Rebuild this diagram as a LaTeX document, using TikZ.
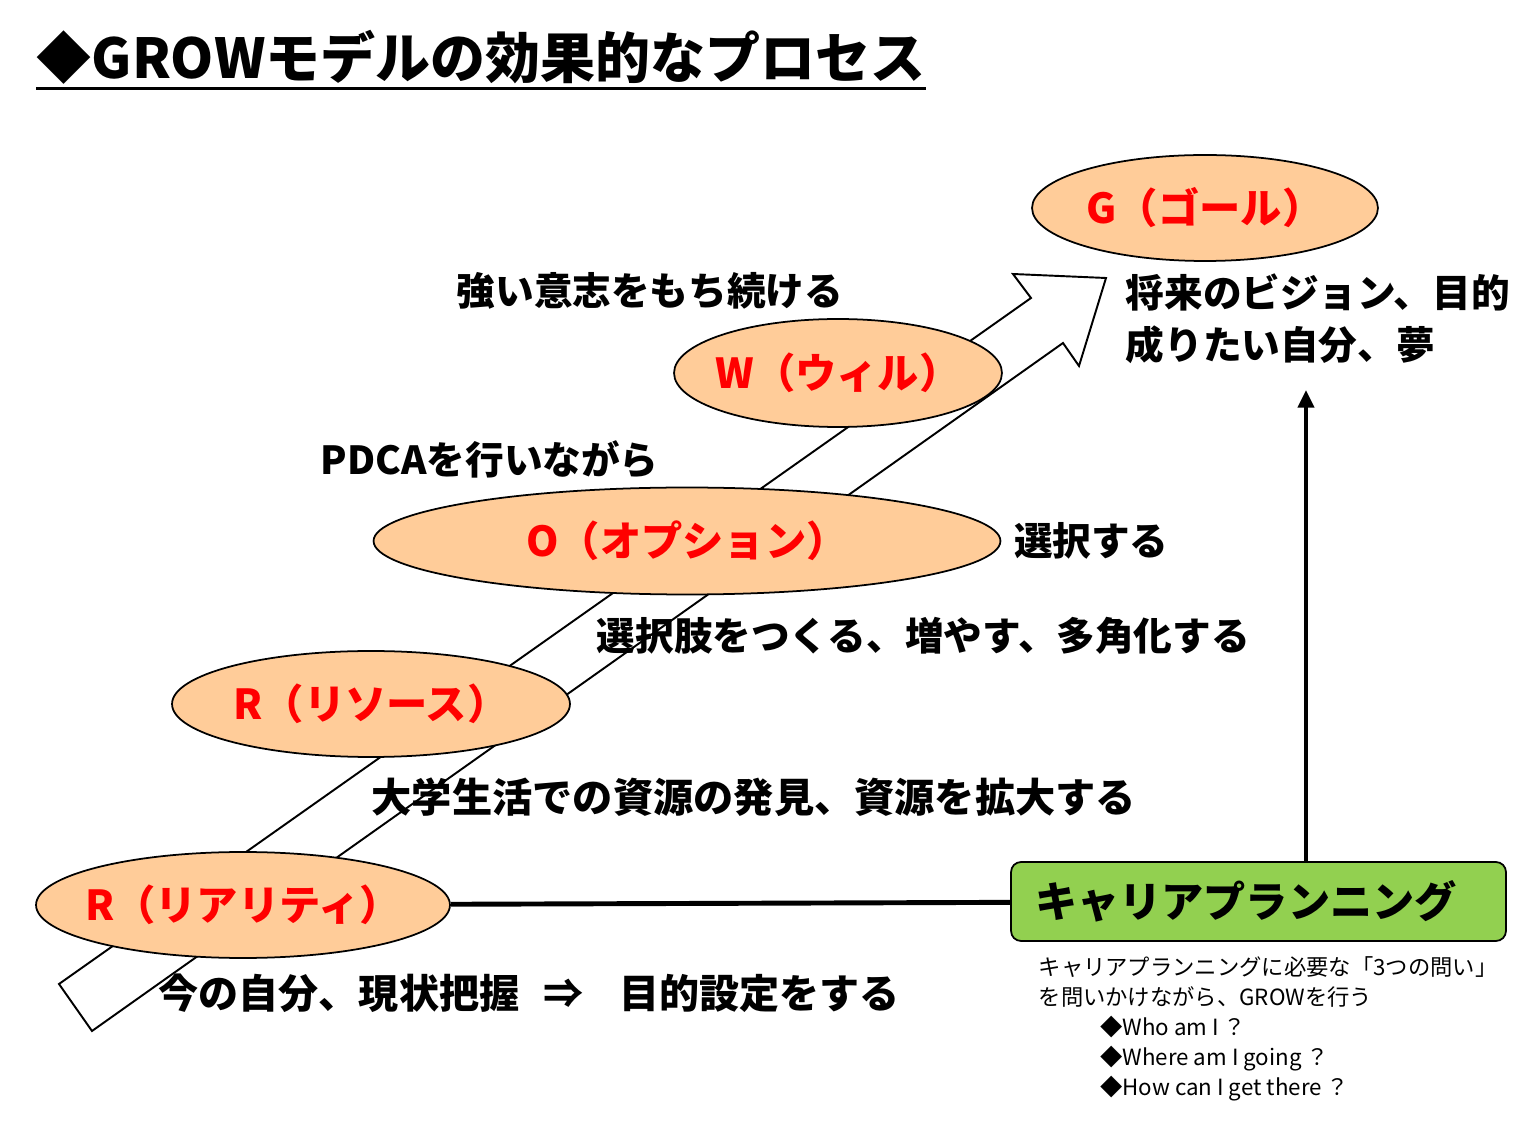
\documentclass[tikz,border=0pt]{standalone}
\usepackage{fontspec}
\setmainfont{Noto Sans CJK JP}
\usetikzlibrary{arrows.meta,positioning,shapes.geometric}
\definecolor{peach}{HTML}{FFCC99}
\definecolor{plangreen}{HTML}{92D050}
\tikzset{
    %Define style for the ellipses
    oval/.style={
           ellipse,
           draw=black, line width=1pt,
           fill=peach,
           inner xsep=-0.3cm,
           inner ysep=0pt,
           text=red,
           font=\fontsize{23.5}{26}\selectfont\bfseries},
    %Define style for the green box
    planbox/.style={
           rectangle,
           rounded corners=0.2cm,
           draw=black, line width=1pt,
           fill=plangreen,
           text width=8.94cm,
           inner xsep=0.48cm,
           inner ysep=0pt,
           minimum height=1.58cm,
           align=left,
           font=\fontsize{24}{28}\selectfont\bfseries},
    % Define text styles
    txt/.style={
           inner sep=0pt,
           font=\fontsize{22}{29.5}\selectfont\bfseries},
    smalltxt/.style={
           inner sep=0pt,
           font=\fontsize{12.7}{17}\selectfont},
    titel/.style={
           inner sep=0pt,
           font=\fontsize{31.3}{36}\selectfont\bfseries}
}
\begin{document}
\begin{tikzpicture}[x=0.02cm,y=-0.02cm,thick]
\path[use as bounding box, fill=white] (0,0) rectangle (1526,1121);

 %big arrow
\draw[line width=1.1pt, fill=white] (59,984) -- (1031,298) -- (1013,274) -- (1106,278)
    -- (1079,366) -- (1063,343) -- (92,1031) -- cycle;

 %title
\node[titel, anchor=west] (title) at (36,57) {◆GROWモデルの効果的なプロセス};
\draw[line width=1.7pt] ([yshift=-2pt]title.south west) -- ([yshift=-2pt]title.south east);

 %nodes
\node[oval, minimum width=6.92cm, minimum height=2.12cm] (G) at (1205,208) {G（ゴール）};
\node[oval, minimum width=6.56cm, minimum height=2.16cm] (W) at (838,373) {W（ウィル）};
\node[oval, minimum width=12.54cm, minimum height=2.14cm] (O) at (687,541) {O（オプション）};
\node[oval, minimum width=7.96cm, minimum height=2.12cm] (R1) at (371,704) {R（リソース）};
\node[oval, minimum width=8.28cm, minimum height=2.12cm] (R2) at (243,905) {R（リアリティ）};
\node[planbox] (plan) at (1258.5,901.5) {キャリアプランニング};

 %texts
\node[txt, anchor=west] (willtxt) at (456,291) {強い意志をもち続ける};
\node[txt, anchor=west] (pdcatxt) at (320,459) {PDCAを行いながら};
\node[txt, right=0.24cm of O] (choosetxt) {選択する};
\node[txt, anchor=west] (optiontxt) at (596,636) {選択肢をつくる、増やす、多角化する};
\node[txt, anchor=west, font=\fontsize{22.9}{29.5}\selectfont\bfseries] (resourcetxt) at (371,797) {大学生活での資源の発見、資源を拡大する};
\node[txt, anchor=west, font=\fontsize{22.8}{29.5}\selectfont\bfseries] (realitytxt) at (158,993) {今の自分、現状把握\hspace{14pt}⇒\hspace{20pt}目的設定をする};
\node[txt, align=left, anchor=west] (goaltxt) at (1125,319) {将来のビジョン、目的\\成りたい自分、夢};
\node[smalltxt, align=left, anchor=west] (plantxt) at (1038,1029)
    {キャリアプランニングに必要な「3つの問い」\\
     を問いかけながら、GROWを行う\\
     \hspace*{35pt}◆Who am I ？\\
     \hspace*{35pt}◆Where am I going ？\\
     \hspace*{35pt}◆How can I get there ？};

 %connectors
\coordinate (goaltip) at (1306,390);
\draw[line width=2.8pt] (R2) -- (plan);
\draw[line width=2.3pt, -{Triangle[length=10pt,width=9pt]}] (plan.north -| goaltip) -- (goaltip);
\end{tikzpicture}
\end{document}
